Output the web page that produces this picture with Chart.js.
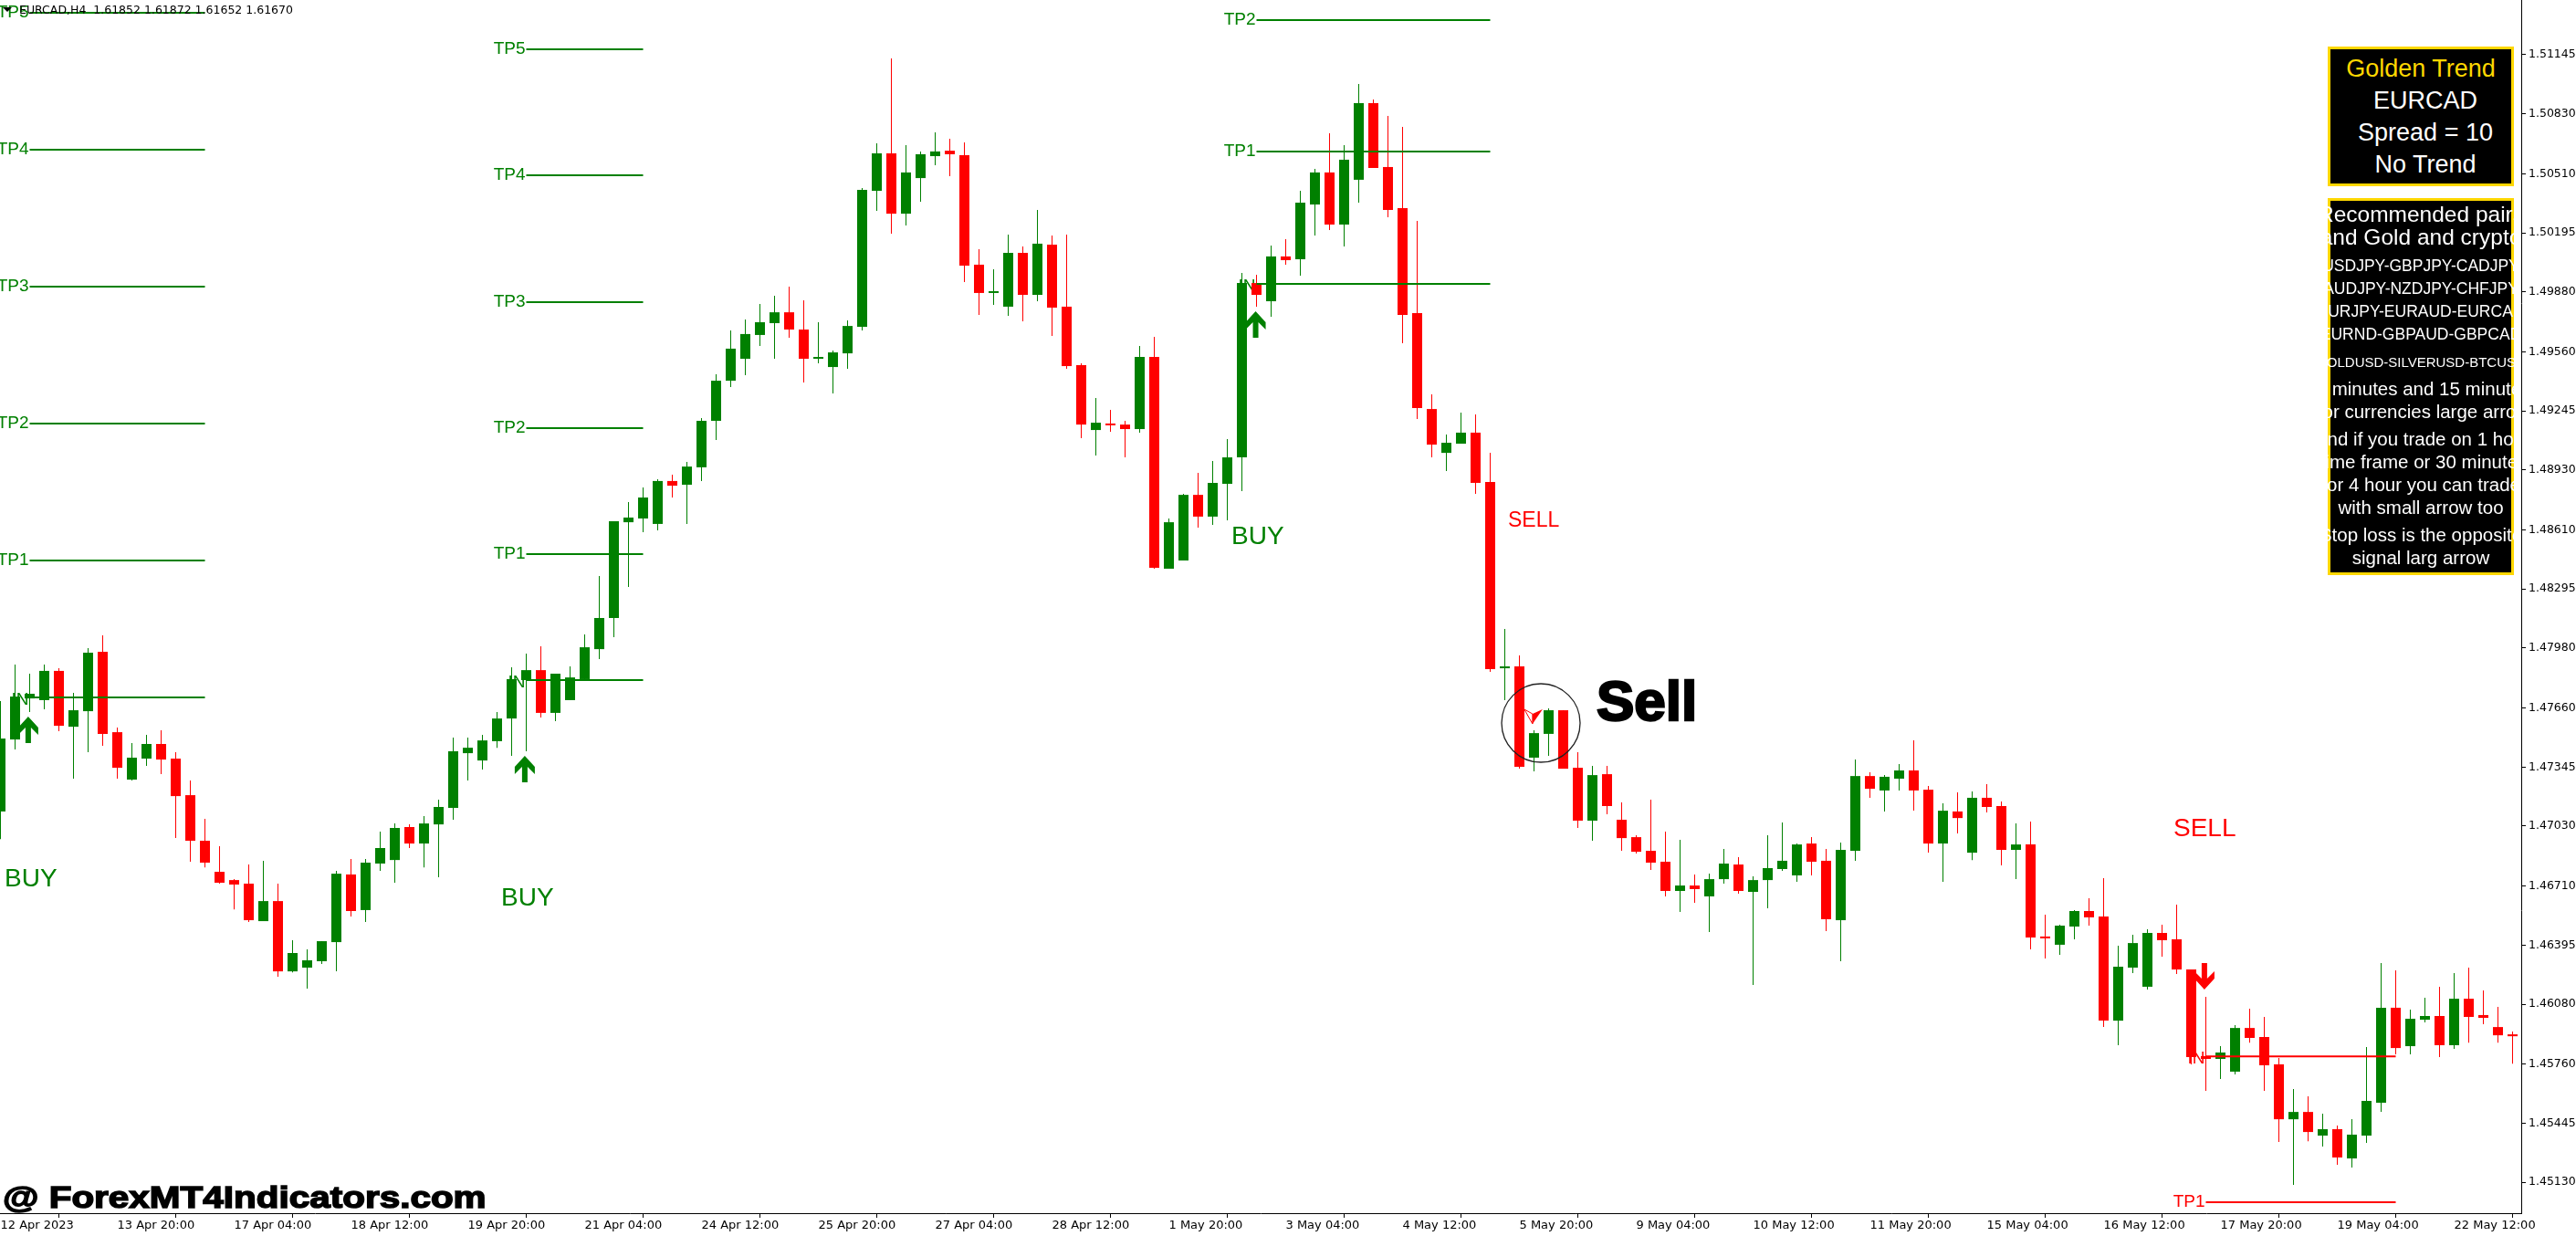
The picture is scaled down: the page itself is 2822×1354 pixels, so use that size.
<!DOCTYPE html>
<html>
<head>
<meta charset="utf-8">
<title>EURCAD H4 Golden Trend</title>
<script src="https://cdn.jsdelivr.net/npm/chart.js@4"></script>
<style>
  html, body { margin: 0; padding: 0; background: #fff; width: 2822px; height: 1354px; overflow: hidden; }
  #wrap { position: relative; width: 2822px; height: 1354px; }
  canvas { position: absolute; left: 0; top: 0; }
  .panel { position: absolute; left: 2550px; width: 198px; background: #000; border: 3px solid #ffd700; clip-path: inset(0 0 0 -4px); font-family: "Liberation Sans", Arial, sans-serif; color: #fff; }
  .panel div { position: absolute; left: 50%; transform: translate(-50%, -50%); white-space: nowrap; }
  #header { position: absolute; left: 21px; top: 3px; font: 12.5px "DejaVu Sans", sans-serif; color: #000; white-space: pre; }
  #caret { position: absolute; left: 3px; top: 8px; width: 0; height: 0; border-left: 5px solid transparent; border-right: 5px solid transparent; border-top: 5px solid #000; }
  #stamp { position: absolute; left: 3px; top: 1292px; font: bold 34px "Liberation Sans", Arial, sans-serif; color: #000; -webkit-text-stroke: 1.5px #000; white-space: nowrap; transform: scaleX(1.19); transform-origin: left center; }
</style>
</head>
<body>
<div id="wrap">
  <canvas id="chart" width="2822" height="1354"></canvas>
  <div id="caret"></div>
  <div id="header">EURCAD,H4  1.61852 1.61872 1.61652 1.61670</div>
  <div class="panel" style="top:51px;height:147px;font-size:27px">
    <div style="top:21px;color:#ffd700">Golden Trend</div>
    <div style="top:56px;margin-left:5px">EURCAD</div>
    <div style="top:91px;margin-left:5px">Spread = 10</div>
    <div style="top:126px;margin-left:5px">No Trend</div>
  </div>
  <div class="panel" style="top:217px;height:407px;font-size:20.5px">
    <div style="top:15px;font-size:24.5px">Recommended pairs</div>
    <div style="top:40px;font-size:24.5px">and Gold and crypto</div>
    <div style="top:71px;font-size:17.5px">USDJPY-GBPJPY-CADJPY</div>
    <div style="top:96px;font-size:17.5px">AUDJPY-NZDJPY-CHFJPY</div>
    <div style="top:121px;font-size:17.5px">EURJPY-EURAUD-EURCAD</div>
    <div style="top:146px;font-size:17.5px">EURND-GBPAUD-GBPCAD</div>
    <div style="top:176px;font-size:15px">GOLDUSD-SILVERUSD-BTCUSD</div>
    <div style="top:206px;margin-left:3px">5 minutes and 15 minutes</div>
    <div style="top:231px;margin-left:3px">for currencies large arrow</div>
    <div style="top:261px;margin-left:3px">and if you trade on 1 hour</div>
    <div style="top:286px;margin-left:3px">time frame or 30 minutes</div>
    <div style="top:311px;margin-left:3px">or 4 hour you can trade</div>
    <div style="top:336px">with small arrow too</div>
    <div style="top:366px">Stop loss is the opposite</div>
    <div style="top:391px">signal larg arrow</div>
  </div>
  <div id="stamp">@ ForexMT4Indicators.com</div>
</div>
<script>
// Candles, one entry per H4 bar
var openPrices = [
  1.47108,1.47492,1.47711,1.47702,1.47858,1.47560,1.47643,1.47960,1.47531,1.47278,1.47390,1.47468,1.47390,1.47195,1.46952,1.46786,
  1.46742,1.46723,1.46523,1.46630,1.46255,1.46275,1.46309,1.46411,1.46772,1.46582,1.46830,1.46849,1.47025,1.46937,1.47039,1.47127,
  1.47419,1.47380,1.47483,1.47604,1.47809,1.47862,1.47634,1.47702,1.47814,1.47974,1.48140,1.48651,1.48671,1.48642,1.48871,1.48851,
  1.48944,1.49192,1.49406,1.49523,1.49650,1.49713,1.49771,1.49679,1.49523,1.49479,1.49552,1.49694,1.50419,1.50619,1.50297,1.50487,
  1.50604,1.50633,1.50609,1.50025,1.49874,1.49801,1.50088,1.49864,1.50132,1.49801,1.49489,1.49143,1.49177,1.49172,1.49148,1.49533,
  1.48403,1.48447,1.48797,1.48681,1.48856,1.48997,1.49927,1.49830,1.50069,1.50054,1.50346,1.50517,1.50239,1.50478,1.50887,1.50546,
  1.50327,1.49767,1.49255,1.49021,1.49070,1.49129,1.48866,1.47872,1.47882,1.47395,1.47522,1.47648,1.47341,1.47059,1.47307,1.47064,
  1.46971,1.46898,1.46840,1.46684,1.46713,1.46655,1.46747,1.46825,1.46679,1.46742,1.46801,1.46767,1.46937,1.46845,1.46528,1.46898,
  1.47297,1.47220,1.47283,1.47327,1.47224,1.46937,1.47108,1.46888,1.47181,1.47137,1.46903,1.46932,1.46441,1.46397,1.46494,1.46577,
  1.46548,1.45992,1.46275,1.46173,1.46460,1.46426,1.46265,1.45803,1.45788,1.45720,1.45953,1.45905,1.45759,1.45466,1.45505,1.45379,
  1.45413,1.45257,1.45379,1.45554,1.46061,1.45856,1.45997,1.46017,1.45861,1.46109,1.46022,1.45958,1.45919
];
var highPrices = [
  1.47697,1.47892,1.47843,1.47892,1.47872,1.47741,1.47979,1.48047,1.47556,1.47473,1.47517,1.47541,1.47424,1.47273,1.47069,1.46923,
  1.46747,1.46825,1.46845,1.46723,1.46421,1.46372,1.46416,1.46791,1.46854,1.46854,1.47000,1.47044,1.47039,1.47083,1.47171,1.47502,
  1.47502,1.47517,1.47638,1.47877,1.47950,1.47989,1.47843,1.47882,1.48052,1.48364,1.48656,1.48758,1.48836,1.48880,1.48905,1.48973,
  1.49207,1.49440,1.49674,1.49732,1.49815,1.49859,1.49908,1.49835,1.49718,1.49567,1.49728,1.50434,1.50672,1.51125,1.50663,1.50629,
  1.50731,1.50697,1.50677,1.50107,1.50000,1.50185,1.50122,1.50317,1.50181,1.50185,1.49499,1.49314,1.49250,1.49192,1.49591,1.49640,
  1.48671,1.48802,1.48914,1.48978,1.49095,1.49981,1.49971,1.50127,1.50161,1.50419,1.50536,1.50726,1.50663,1.50989,1.50906,1.50819,
  1.50760,1.50258,1.49333,1.49119,1.49236,1.49226,1.49021,1.48082,1.47940,1.47541,1.47658,1.47648,1.47424,1.47351,1.47351,1.47156,
  1.46981,1.47171,1.47000,1.46957,1.46772,1.46776,1.46908,1.46864,1.46762,1.46981,1.47049,1.46937,1.46971,1.46908,1.46942,1.47385,
  1.47317,1.47302,1.47361,1.47487,1.47244,1.47151,1.47210,1.47215,1.47254,1.47161,1.47044,1.47054,1.46557,1.46504,1.46582,1.46645,
  1.46752,1.46392,1.46450,1.46479,1.46504,1.46611,1.46265,1.46119,1.45856,1.45968,1.46056,1.46012,1.45793,1.45627,1.45588,1.45496,
  1.45432,1.45466,1.45851,1.46299,1.46260,1.46051,1.46114,1.46173,1.46246,1.46275,1.46153,1.46065,1.45934
];
var lowPrices = [
  1.46961,1.47439,1.47638,1.47653,1.47536,1.47283,1.47424,1.47458,1.47283,1.47273,1.47351,1.47307,1.46966,1.46840,1.46810,1.46723,
  1.46586,1.46518,1.46523,1.46226,1.46250,1.46163,1.46294,1.46255,1.46548,1.46518,1.46791,1.46728,1.46913,1.46810,1.46757,1.47064,
  1.47273,1.47332,1.47448,1.47405,1.47429,1.47609,1.47590,1.47702,1.47814,1.47921,1.48038,1.48306,1.48598,1.48608,1.48783,1.48642,
  1.48871,1.49090,1.49372,1.49435,1.49591,1.49523,1.49635,1.49396,1.49499,1.49338,1.49470,1.49674,1.50312,1.50190,1.50234,1.50361,
  1.50556,1.50497,1.49932,1.49757,1.49810,1.49752,1.49723,1.49830,1.49645,1.49470,1.49099,1.49007,1.49133,1.48997,1.49129,1.48403,
  1.48403,1.48447,1.48622,1.48637,1.48661,1.48817,1.49801,1.49747,1.50025,1.49966,1.50181,1.50210,1.50122,1.50356,1.50541,1.50278,
  1.49606,1.49202,1.48997,1.48924,1.49070,1.48802,1.47853,1.47702,1.47336,1.47322,1.47405,1.47336,1.47020,1.46952,1.47093,1.46898,
  1.46884,1.46796,1.46655,1.46572,1.46621,1.46465,1.46723,1.46669,1.46182,1.46591,1.46791,1.46733,1.46767,1.46470,1.46309,1.46845,
  1.47181,1.47108,1.47220,1.47112,1.46888,1.46733,1.46991,1.46849,1.47103,1.46820,1.46747,1.46372,1.46324,1.46343,1.46426,1.46499,
  1.45958,1.45861,1.46246,1.46158,1.46333,1.46241,1.45759,1.45617,1.45681,1.45705,1.45875,1.45617,1.45345,1.45116,1.45349,1.45320,
  1.45223,1.45208,1.45340,1.45505,1.45812,1.45812,1.45983,1.45798,1.45841,1.45875,1.45973,1.45875,1.45763
];
var closePrices = [
  1.47497,1.47721,1.47736,1.47858,1.47565,1.47648,1.47955,1.47522,1.47341,1.47395,1.47468,1.47385,1.47190,1.46952,1.46835,1.46728,
  1.46718,1.46528,1.46630,1.46255,1.46353,1.46314,1.46416,1.46776,1.46577,1.46835,1.46913,1.47020,1.46937,1.47044,1.47132,1.47429,
  1.47448,1.47487,1.47604,1.47814,1.47862,1.47634,1.47843,1.47823,1.47984,1.48140,1.48656,1.48676,1.48783,1.48871,1.48846,1.48948,
  1.49192,1.49406,1.49577,1.49655,1.49718,1.49771,1.49679,1.49523,1.49528,1.49557,1.49698,1.50424,1.50619,1.50297,1.50517,1.50614,
  1.50629,1.50614,1.50020,1.49874,1.49883,1.50088,1.49864,1.50137,1.49796,1.49484,1.49172,1.49182,1.49168,1.49148,1.49533,1.48408,
  1.48651,1.48797,1.48681,1.48861,1.48997,1.49927,1.49864,1.50069,1.50049,1.50356,1.50517,1.50239,1.50585,1.50887,1.50541,1.50317,
  1.49757,1.49260,1.49065,1.49075,1.49129,1.48861,1.47867,1.47882,1.47346,1.47526,1.47648,1.47336,1.47059,1.47302,1.47137,1.46966,
  1.46893,1.46835,1.46684,1.46713,1.46694,1.46747,1.46830,1.46684,1.46742,1.46806,1.46845,1.46932,1.46840,1.46533,1.46903,1.47297,
  1.47229,1.47293,1.47327,1.47220,1.46937,1.47112,1.47073,1.47181,1.47132,1.46903,1.46932,1.46436,1.46431,1.46499,1.46577,1.46543,
  1.45992,1.46280,1.46406,1.46460,1.46421,1.46265,1.45798,1.45788,1.45822,1.45953,1.45900,1.45754,1.45466,1.45505,1.45398,1.45413,
  1.45262,1.45384,1.45564,1.46061,1.45846,1.46002,1.46017,1.45861,1.46109,1.46012,1.46007,1.45914,1.45909
];

var timeLabels = ['12 Apr 2023','13 Apr 20:00','17 Apr 04:00','18 Apr 12:00','19 Apr 20:00','21 Apr 04:00','24 Apr 12:00','25 Apr 20:00',
  '27 Apr 04:00','28 Apr 12:00','1 May 20:00','3 May 04:00','4 May 12:00','5 May 20:00','9 May 04:00','10 May 12:00',
  '11 May 20:00','15 May 04:00','16 May 12:00','17 May 20:00','19 May 04:00','22 May 12:00'];
var priceTicks = [1.51145,1.50830,1.50510,1.50195,1.49880,1.49560,1.49245,1.48930,1.48610,1.48295,
  1.47980,1.47660,1.47345,1.47030,1.46710,1.46395,1.46080,1.45760,1.45445,1.45130];

// Trade levels of each signal: first and last bar, level names and prices
var firstBuyBars = [2, 14];
var firstBuyNames = ['IN','TP1','TP2','TP3','TP4','TP5'];
var firstBuyLevels = [1.47716,1.48447,1.49177,1.49908,1.50638,1.51369];
var secondBuyBars = [36, 44];
var secondBuyNames = ['IN','TP1','TP2','TP3','TP4','TP5'];
var secondBuyLevels = [1.47809,1.48481,1.49153,1.49825,1.50502,1.51174];
var thirdBuyBars = [86, 102];
var thirdBuyNames = ['IN','TP1','TP2'];
var thirdBuyLevels = [1.49922,1.50629,1.51330];
var sellBars = [151, 164];
var sellNames = ['IN','TP1'];
var sellLevels = [1.45802,1.45023];

var GREEN = '#008000';
var RED = '#ff0000';
var MAIN_FONT = '"Liberation Sans", Arial, sans-serif';

var levelGroups = [
  { bars: firstBuyBars, names: firstBuyNames, levels: firstBuyLevels, color: GREEN },
  { bars: secondBuyBars, names: secondBuyNames, levels: secondBuyLevels, color: GREEN },
  { bars: thirdBuyBars, names: thirdBuyNames, levels: thirdBuyLevels, color: GREEN },
  { bars: sellBars, names: sellNames, levels: sellLevels, color: RED }
];

// Signal words and arrows, anchored on bar number and price
var signalWords = [
  { text: 'BUY', bar: 0.28, price: 1.46708, size: 28, color: GREEN },
  { text: 'BUY', bar: 34.28, price: 1.46606, size: 28, color: GREEN },
  { text: 'BUY', bar: 84.28, price: 1.48534, size: 28, color: GREEN },
  { text: 'SELL', bar: 103.22, price: 1.48627, size: 23, color: RED },
  { text: 'SELL', bar: 148.78, price: 1.46976, size: 28, color: RED }
];
var upArrows = [
  { bar: 1.9, price: 1.47614 },
  { bar: 35.9, price: 1.47405 },
  { bar: 85.94, price: 1.49776 }
];
var downArrows = [{ bar: 150.9, price: 1.46158 }];

function isUp(i) { return closePrices[i] >= openPrices[i]; }
function candleColors() {
  return openPrices.map(function(o, i) { return isUp(i) ? GREEN : RED; });
}

function buildDatasets() {
  var sets = [];
  levelGroups.forEach(function(g) {
    g.levels.forEach(function(p) {
      sets.push({
        type: 'line',
        data: [{ x: g.bars[0], y: p }, { x: g.bars[1], y: p }],
        borderColor: g.color, borderWidth: 2, pointRadius: 0, order: 0
      });
    });
  });
  sets.push({
    label: 'Bodies',
    data: openPrices.map(function(o, i) { return { x: i, y: [o, closePrices[i]] }; }),
    backgroundColor: candleColors(),
    barThickness: 11, minBarLength: 2, grouped: false, borderWidth: 0, inflateAmount: 0, order: 1
  });
  sets.push({
    label: 'Wicks',
    data: lowPrices.map(function(l, i) { return { x: i, y: [l, highPrices[i]] }; }),
    backgroundColor: candleColors(),
    barThickness: 1, grouped: false, borderWidth: 0, inflateAmount: 0, order: 2
  });
  return sets;
}

function drawText(ctx, text, x, y, font, color, align) {
  ctx.font = font;
  ctx.fillStyle = color;
  ctx.textAlign = align || 'left';
  ctx.fillText(text, x, y);
}

function drawArrow(ctx, x, tip, dir, color) {
  // dir 1 points up, -1 points down
  ctx.fillStyle = color;
  ctx.beginPath();
  ctx.moveTo(x, tip);
  ctx.lineTo(x + 11, tip + 12 * dir);
  ctx.lineTo(x + 11, tip + 20 * dir);
  ctx.lineTo(x + 3, tip + 12 * dir);
  ctx.lineTo(x + 3, tip + 29 * dir);
  ctx.lineTo(x - 3, tip + 29 * dir);
  ctx.lineTo(x - 3, tip + 12 * dir);
  ctx.lineTo(x - 11, tip + 20 * dir);
  ctx.lineTo(x - 11, tip + 12 * dir);
  ctx.closePath();
  ctx.fill();
}

// Chart.js reserves room for half a tick label at the ends of an axis, this chart runs edge to edge
function dropAxisPadding(scale) {
  scale.paddingTop = 0;
  scale.paddingBottom = 0;
  scale.paddingLeft = 0;
  scale.paddingRight = 0;
}

// IN labels sit behind the candles
var entryLabels = {
  id: 'entryLabels',
  beforeDatasetsDraw: function(chart) {
    var ctx = chart.ctx, xs = chart.scales.x, ys = chart.scales.y;
    ctx.save();
    ctx.textBaseline = 'alphabetic';
    levelGroups.forEach(function(g) {
      drawText(ctx, 'IN', xs.getPixelForValue(g.bars[0]) - 1, ys.getPixelForValue(g.levels[0]) + 8,
        '19px ' + MAIN_FONT, g.color, 'right');
    });
    ctx.restore();
  }
};

var chartNotes = {
  id: 'chartNotes',
  afterDatasetsDraw: function(chart) {
    var ctx = chart.ctx, xs = chart.scales.x, ys = chart.scales.y;
    ctx.save();
    ctx.textBaseline = 'middle';
    levelGroups.forEach(function(g) {
      g.names.forEach(function(name, i) {
        if (name === 'IN') return;
        drawText(ctx, name, xs.getPixelForValue(g.bars[0]) - 1, ys.getPixelForValue(g.levels[i]),
          '19px ' + MAIN_FONT, g.color, 'right');
      });
    });
    ctx.textBaseline = 'alphabetic';
    signalWords.forEach(function(w) {
      drawText(ctx, w.text, xs.getPixelForValue(w.bar), ys.getPixelForValue(w.price), w.size + 'px ' + MAIN_FONT, w.color);
    });
    upArrows.forEach(function(a) {
      drawArrow(ctx, xs.getPixelForValue(a.bar), ys.getPixelForValue(a.price), 1, GREEN);
    });
    downArrows.forEach(function(a) {
      drawArrow(ctx, xs.getPixelForValue(a.bar), ys.getPixelForValue(a.price), -1, RED);
    });

    // the small sell arrow, half filled, and the circle round it
    var sx = xs.getPixelForValue(104.9), sy = ys.getPixelForValue(1.47575);
    ctx.fillStyle = RED;
    ctx.beginPath();
    ctx.moveTo(sx, sy);
    ctx.lineTo(sx + 11, sy - 16);
    ctx.lineTo(sx, sy - 11);
    ctx.closePath();
    ctx.fill();
    ctx.strokeStyle = RED;
    ctx.lineWidth = 1;
    ctx.beginPath();
    ctx.moveTo(sx, sy);
    ctx.lineTo(sx - 9, sy - 16);
    ctx.lineTo(sx, sy - 11);
    ctx.closePath();
    ctx.stroke();

    ctx.strokeStyle = '#222';
    ctx.lineWidth = 1.3;
    ctx.beginPath();
    ctx.arc(xs.getPixelForValue(105.47), ys.getPixelForValue(1.47580), 43, 0, Math.PI * 2);
    ctx.stroke();

    var bx = xs.getPixelForValue(109.28), by = ys.getPixelForValue(1.47595);
    ctx.font = 'bold 62px ' + MAIN_FONT;
    ctx.textAlign = 'left';
    ctx.fillStyle = '#000';
    ctx.strokeStyle = '#000';
    ctx.lineWidth = 2.5;
    ctx.fillText('Sell', bx, by);
    ctx.strokeText('Sell', bx, by);
    ctx.restore();
  }
};

document.addEventListener('DOMContentLoaded', function() {
  new Chart(document.getElementById('chart').getContext('2d'), {
    type: 'bar',
    data: { datasets: buildDatasets() },
    plugins: [entryLabels, chartNotes],
    options: {
      responsive: false,
      animation: false,
      devicePixelRatio: 1,
      layout: { padding: 0 },
      plugins: { legend: { display: false }, tooltip: { enabled: false }, title: { display: false } },
      scales: {
        x: {
          type: 'linear',
          min: -0.03125,
          max: 172.59375,
          offset: false,
          afterFit: function(scale) { scale.height = 25; dropAxisPadding(scale); },
          afterBuildTicks: function(scale) {
            scale.ticks = timeLabels.map(function(l, i) { return { value: i * 8 }; });
          },
          grid: { drawOnChartArea: false, tickLength: 5, tickColor: '#000' },
          border: { color: '#000', width: 1 },
          ticks: {
            color: '#000', font: { family: '"DejaVu Sans", sans-serif', size: 13 }, align: 'start', padding: 1,
            autoSkip: false, maxRotation: 0, minRotation: 0,
            callback: function(v, i) { return timeLabels[i]; }
          }
        },
        y: {
          type: 'linear',
          position: 'right',
          min: 1.44965,
          max: 1.51437,
          afterFit: function(scale) { scale.width = 60; dropAxisPadding(scale); },
          afterBuildTicks: function(scale) {
            scale.ticks = priceTicks.map(function(p) { return { value: p }; });
          },
          grid: { drawOnChartArea: false, tickLength: 5, tickColor: '#000' },
          border: { color: '#000', width: 1 },
          ticks: {
            color: '#000', font: { family: '"DejaVu Sans", sans-serif', size: 12.5 }, padding: 3, autoSkip: false,
            callback: function(v) { return v.toFixed(5); }
          }
        }
      }
    }
  });
});
</script>
</body>
</html>
